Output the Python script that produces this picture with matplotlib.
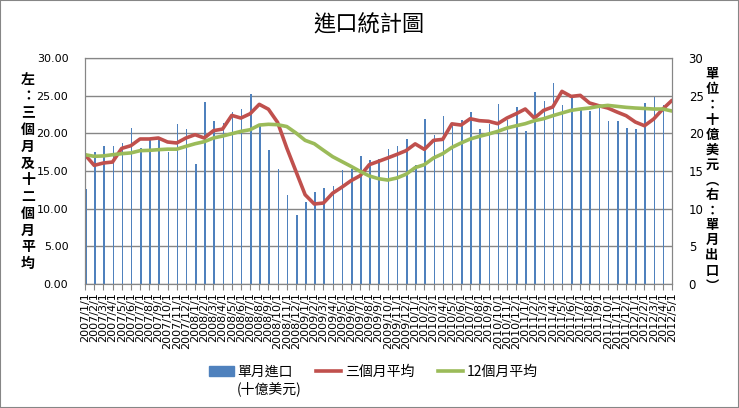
import matplotlib
matplotlib.use("Agg")
import matplotlib.pyplot as plt
from matplotlib.patches import Rectangle, Patch
from matplotlib.lines import Line2D

# monthly labels 2007/1/1 .. 2012/5/1
months = [f"{2007 + i // 12}/{i % 12 + 1}/1" for i in range(65)]

monthly_import = [
    12.65, 17.56, 18.36, 18.27, 18.76, 20.75, 18.09, 19.15, 19.07, 17.56, 21.28, 20.62,
    15.97, 24.20, 21.68, 21.40, 22.87, 23.27, 25.26, 21.00, 17.85, 15.30, 11.85, 9.10,
    10.90, 12.25, 12.78, 13.05, 15.17, 15.30, 17.03, 16.50, 16.63, 17.96, 18.36, 19.27,
    15.84, 21.94, 19.80, 22.34, 21.01, 21.80, 22.80, 20.62, 21.28, 23.93, 21.80, 23.50,
    20.35, 25.50, 24.35, 26.70, 23.80, 24.77, 23.20, 22.90, 23.40, 21.60, 21.68, 20.75,
    20.62, 24.07, 24.86, 23.80, 23.50,
]

avg_3m = [
    17.16, 15.75, 16.06, 16.19, 18.00, 18.36, 19.25, 19.25, 19.38, 18.85, 18.72, 19.38,
    19.82, 19.38, 20.35, 20.57, 22.38, 22.03, 22.60, 23.85, 23.20, 21.45, 18.05, 14.95,
    11.85, 10.62, 10.75, 12.05, 12.85, 13.71, 14.38, 15.84, 16.28, 16.73, 17.20, 17.70,
    18.60, 17.87, 19.07, 19.20, 21.26, 21.10, 21.94, 21.68, 21.60, 21.28, 22.03, 22.60,
    23.23, 22.03, 23.05, 23.50, 25.57, 24.90, 25.04, 24.03, 23.67, 23.36, 22.83, 22.34,
    21.50, 21.01, 21.90, 23.23, 24.38,
]

avg_12m = [
    17.16, 16.95, 17.00, 17.16, 17.30, 17.40, 17.70, 17.74, 17.83, 17.90, 17.90, 18.27,
    18.62, 18.89, 19.38, 19.64, 19.95, 20.26, 20.48, 21.10, 21.20, 21.15, 20.90, 20.05,
    19.07, 18.62, 17.75, 16.90, 16.26, 15.62, 14.95, 14.34, 13.98, 13.80, 14.07, 14.57,
    15.45, 15.84, 16.73, 17.30, 18.13, 18.72, 19.25, 19.60, 19.91, 20.26, 20.70, 21.00,
    21.28, 21.68, 21.94, 22.34, 22.70, 23.05, 23.23, 23.36, 23.58, 23.71, 23.58, 23.45,
    23.36, 23.30, 23.23, 23.23, 22.96,
]

left_ticks = [0, 5, 10, 15, 20, 25, 30]

cjk = ["Noto Sans CJK TC", "DejaVu Sans"]
grey = "#868686"

fig = plt.figure(figsize=(7.39, 4.08), dpi=100)
fig.patches.append(Rectangle((0, 0), 1, 1, transform=fig.transFigure,
                             fill=False, edgecolor=grey, linewidth=1.5))

ax2 = fig.add_axes([85 / 739, 1 - 284 / 408, 587 / 739, 226 / 408])
ax = ax2.twinx()
ax.set_zorder(ax2.get_zorder() + 1)
ax.patch.set_visible(False)

x = list(range(len(months)))
ax2.bar(x, monthly_import, width=0.17, align="edge", color="#4F81BD", zorder=2)
ax.plot(x, avg_3m, color="#C0504D", lw=2.6, solid_capstyle="round")
ax.plot(x, avg_12m, color="#9BBB59", lw=2.6, solid_capstyle="round")

for a in (ax, ax2):
    a.set_xlim(0, len(months) - 1)
    a.set_ylim(0, 30)
    for s in a.spines.values():
        s.set_color(grey)

ax2.set_axisbelow(True)
ax2.grid(axis="y", color=grey, lw=1)
ax2.yaxis.tick_right()
ax.yaxis.tick_left()

# left axis: averages, right axis: monthly
ax.set_yticks(left_ticks)
ax.set_yticklabels([f"{v:.2f}" for v in left_ticks], fontsize=8)
ax2.set_yticks(left_ticks)
ax2.set_yticklabels([str(v) for v in left_ticks], fontsize=8.5)
ax.tick_params(axis="y", length=0, pad=12)
ax2.tick_params(axis="y", length=0, pad=12)

ax2.set_xticks(x)
ax2.set_xticklabels(months, rotation=90, fontsize=8)
ax2.tick_params(axis="x", length=4, color=grey, pad=2)
ax.tick_params(axis="x", length=0, labelbottom=False)

fig.text(369 / 739, 1 - 25 / 408, "進口統計圖", family=cjk, fontsize=16,
         ha="center", va="center")

left_title = "左：三個月及十二個月平均"
fig.text(28 / 739, 1 - 172 / 408, "\n".join(left_title), family=cjk,
         fontsize=10, fontweight="bold", ha="center", va="center", linespacing=1.25)

right_title = "單位：十億美元︵右：單月出口︶"
fig.text(712 / 739, 1 - 180 / 408, "\n".join(right_title), family=cjk,
         fontsize=9.5, fontweight="bold", ha="center", va="center", linespacing=1.1)

handles = [Patch(color="#4F81BD"),
           Line2D([], [], color="#C0504D", lw=2.6),
           Line2D([], [], color="#9BBB59", lw=2.6)]
labels = ["單月進口", "三個月平均", "12個月平均"]
leg = fig.legend(handles, labels, loc="center", bbox_to_anchor=(373 / 739, 1 - 372 / 408),
                 ncol=3, frameon=False, prop={"family": cjk, "size": 10},
                 handlelength=1.8, handletextpad=0.25, columnspacing=1.7,
                 borderpad=0, borderaxespad=0)

fig.canvas.draw()
bb = leg.get_texts()[0].get_window_extent()
fig.text(bb.x0 / fig.bbox.width, (bb.y0 - 2) / fig.bbox.height, "(十億美元)",
         family=cjk, fontsize=10, ha="left", va="top")

fig.savefig("out.png", dpi=100)
